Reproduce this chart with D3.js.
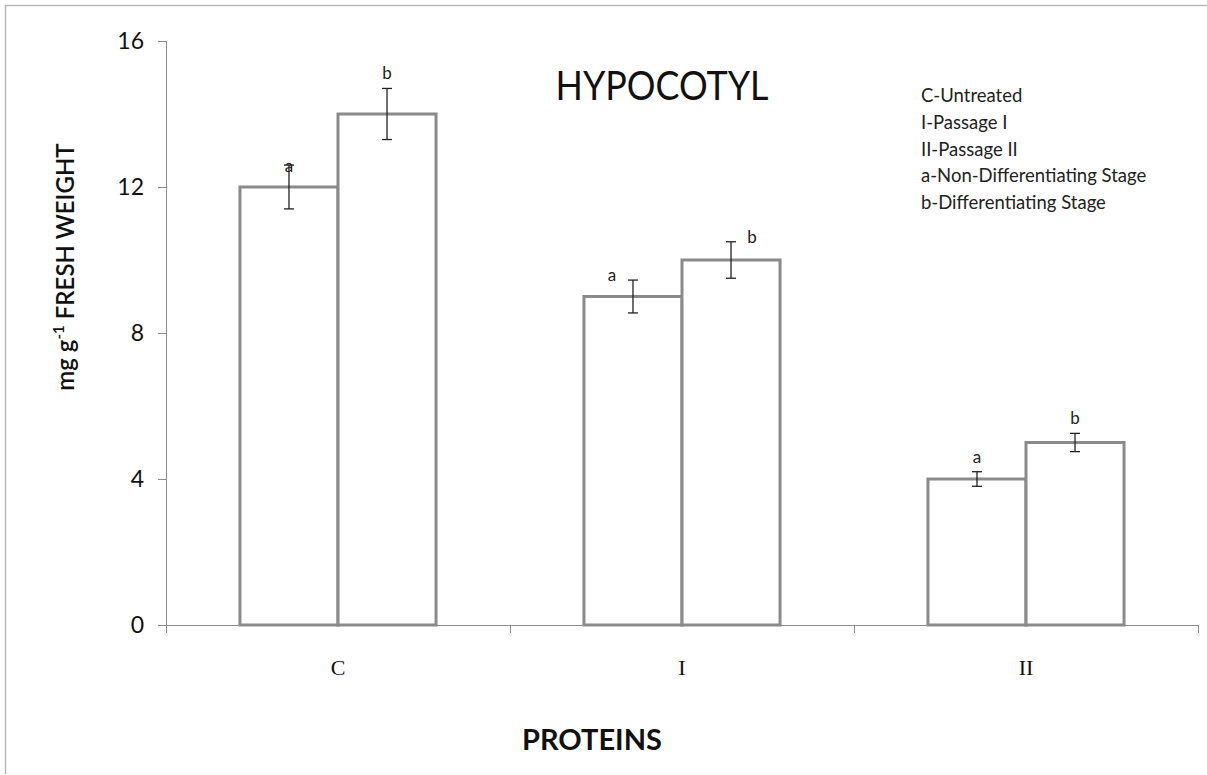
<!doctype html>
<html lang="en">
  <head>
    <meta charset="UTF-8" />
    <title>Hypocotyl proteins</title>
    <script src="https://d3js.org/d3.v7.min.js"></script>
    <style>
      body {
        margin: 0;
        padding: 0;
        background: #fff;
      }
      .axis path,
      .axis line {
        stroke: #8c8c8c;
        shape-rendering: crispEdges;
      }
      .axis text {
        font-family: Lato, 'Open Sans', sans-serif;
        fill: #111;
      }
    </style>
  </head>
  <body>
    <svg id="chart" width="1207" height="775"></svg>
    <script>
      // data
      const categories = ['C', 'I', 'II'];
      const stages = ['a', 'b'];
      const nonDiff = [12, 9, 4];
      const diff = [14, 10, 5];
      const nonDiffErr = [0.6, 0.45, 0.2];
      const diffErr = [0.7, 0.5, 0.25];
      const yTicks = [0, 4, 8, 12, 16];
      const legendLines = [
        'C-Untreated',
        'I-Passage I',
        'II-Passage II',
        'a-Non-Differentiating Stage',
        'b-Differentiating Stage',
      ];

      const rows = [];
      categories.forEach(function (c, i) {
        rows.push({ cat: c, stage: 'a', value: nonDiff[i], err: nonDiffErr[i] });
        rows.push({ cat: c, stage: 'b', value: diff[i], err: diffErr[i] });
      });

      const svg = d3.select('#chart');

      // outer frame (top + left visible)
      svg.append('path')
        .attr('d', 'M5.5,774 V5.5 H1207')
        .attr('fill', 'none')
        .attr('stroke', '#b8b8b8')
        .attr('stroke-width', 1.5);

      const x0 = d3.scaleBand()
        .domain(categories)
        .range([166, 1198]);
      const groupWidth = x0.bandwidth() * 0.57;
      const x1 = d3.scaleBand()
        .domain(stages)
        .range([0, groupWidth]);
      const y = d3.scaleLinear().domain([0, 16]).range([625, 41]);

      const g = svg.append('g');

      // y axis
      const yAxis = g.append('g')
        .attr('class', 'axis')
        .attr('transform', 'translate(166,0)')
        .call(d3.axisLeft(y).tickValues(yTicks).tickSize(8).tickPadding(14));
      yAxis.selectAll('text').style('font-size', '23px');

      // x axis with ticks at category boundaries
      const xAxis = g.append('g')
        .attr('class', 'axis')
        .attr('transform', 'translate(0,625)');
      xAxis.append('line')
        .attr('x1', 166).attr('x2', 1198)
        .attr('y1', 0).attr('y2', 0);
      const bounds = categories.map(function (c) { return x0(c); }).concat([x0.range()[1]]);
      xAxis.selectAll('.bt')
        .data(bounds)
        .enter()
        .append('line')
        .attr('x1', function (d) { return d; })
        .attr('x2', function (d) { return d; })
        .attr('y1', 0)
        .attr('y2', 8);
      xAxis.selectAll('.cl')
        .data(categories)
        .enter()
        .append('text')
        .attr('x', function (d) { return x0(d) + x0.bandwidth() / 2; })
        .attr('y', 50)
        .attr('text-anchor', 'middle')
        .style('font-family', "'Liberation Serif', 'DejaVu Serif', serif")
        .style('font-size', '22px')
        .text(function (d) { return d; });

      function barX(d) {
        return x0(d.cat) + (x0.bandwidth() - groupWidth) / 2 + x1(d.stage);
      }

      // bars
      g.selectAll('.bar')
        .data(rows)
        .enter()
        .append('rect')
        .attr('x', barX)
        .attr('y', function (d) { return y(d.value); })
        .attr('width', x1.bandwidth())
        .attr('height', function (d) { return y(0) - y(d.value); })
        .attr('fill', '#fff')
        .attr('stroke', '#8a8a8a')
        .attr('stroke-width', 3);

      // error bars
      const eb = g.selectAll('.err')
        .data(rows)
        .enter()
        .append('g')
        .attr('stroke', '#222')
        .attr('stroke-width', 1.3);
      const cx = function (d) { return barX(d) + x1.bandwidth() / 2; };
      eb.append('line')
        .attr('x1', cx).attr('x2', cx)
        .attr('y1', function (d) { return y(d.value + d.err); })
        .attr('y2', function (d) { return y(d.value - d.err); });
      eb.append('line')
        .attr('x1', function (d) { return cx(d) - 5; })
        .attr('x2', function (d) { return cx(d) + 5; })
        .attr('y1', function (d) { return y(d.value + d.err); })
        .attr('y2', function (d) { return y(d.value + d.err); });
      eb.append('line')
        .attr('x1', function (d) { return cx(d) - 5; })
        .attr('x2', function (d) { return cx(d) + 5; })
        .attr('y1', function (d) { return y(d.value - d.err); })
        .attr('y2', function (d) { return y(d.value - d.err); });

      // significance letters
      const shift = { C: 0, I: 21, II: 0 };
      g.selectAll('.sig')
        .data(rows)
        .enter()
        .append('text')
        .attr('x', function (d) {
          return cx(d) + (d.stage === 'a' ? -shift[d.cat] : shift[d.cat]);
        })
        .attr('y', function (d) {
          if (d.cat === 'C' && d.stage === 'a') return y(d.value + d.err) + 7;
          if (d.cat === 'I') return y(d.value + d.err) + 1;
          return y(d.value + d.err) - 9;
        })
        .attr('text-anchor', 'middle')
        .style('font-family', 'Lato, sans-serif')
        .style('font-size', '17px')
        .style('fill', '#222')
        .text(function (d) { return d.stage; });

      // title
      svg.append('text')
        .attr('x', 662)
        .attr('y', 100)
        .attr('text-anchor', 'middle')
        .style('font-family', 'Lato, sans-serif')
        .style('font-size', '41px')
        .attr('textLength', 213)
        .attr('lengthAdjust', 'spacingAndGlyphs')
        .style('fill', '#111')
        .text('HYPOCOTYL');

      // legend notes
      svg.selectAll('.leg')
        .data(legendLines)
        .enter()
        .append('text')
        .attr('x', 921)
        .attr('y', function (d, i) { return 102 + i * 26.8; })
        .style('font-family', 'Lato, sans-serif')
        .style('font-size', '18.5px')
        .style('fill', '#222')
        .text(function (d) { return d; });

      // y axis label
      const yl = svg.append('text')
        .attr('transform', 'translate(74,267) rotate(-90)')
        .attr('text-anchor', 'middle')
        .style('font-family', 'Lato, sans-serif')
        .style('font-size', '24px')
        .style('font-weight', 600)
        .style('fill', '#111');
      yl.append('tspan').text('mg g');
      yl.append('tspan').attr('dy', -10).style('font-size', '15px').text('-1');
      yl.append('tspan').attr('dy', 10).text(' FRESH WEIGHT');

      // x axis label
      svg.append('text')
        .attr('x', 592)
        .attr('y', 750)
        .attr('text-anchor', 'middle')
        .style('font-family', 'Lato, sans-serif')
        .style('font-size', '29px')
        .style('font-weight', 700)
        .style('fill', '#111')
        .text('PROTEINS');
    </script>
  </body>
</html>
